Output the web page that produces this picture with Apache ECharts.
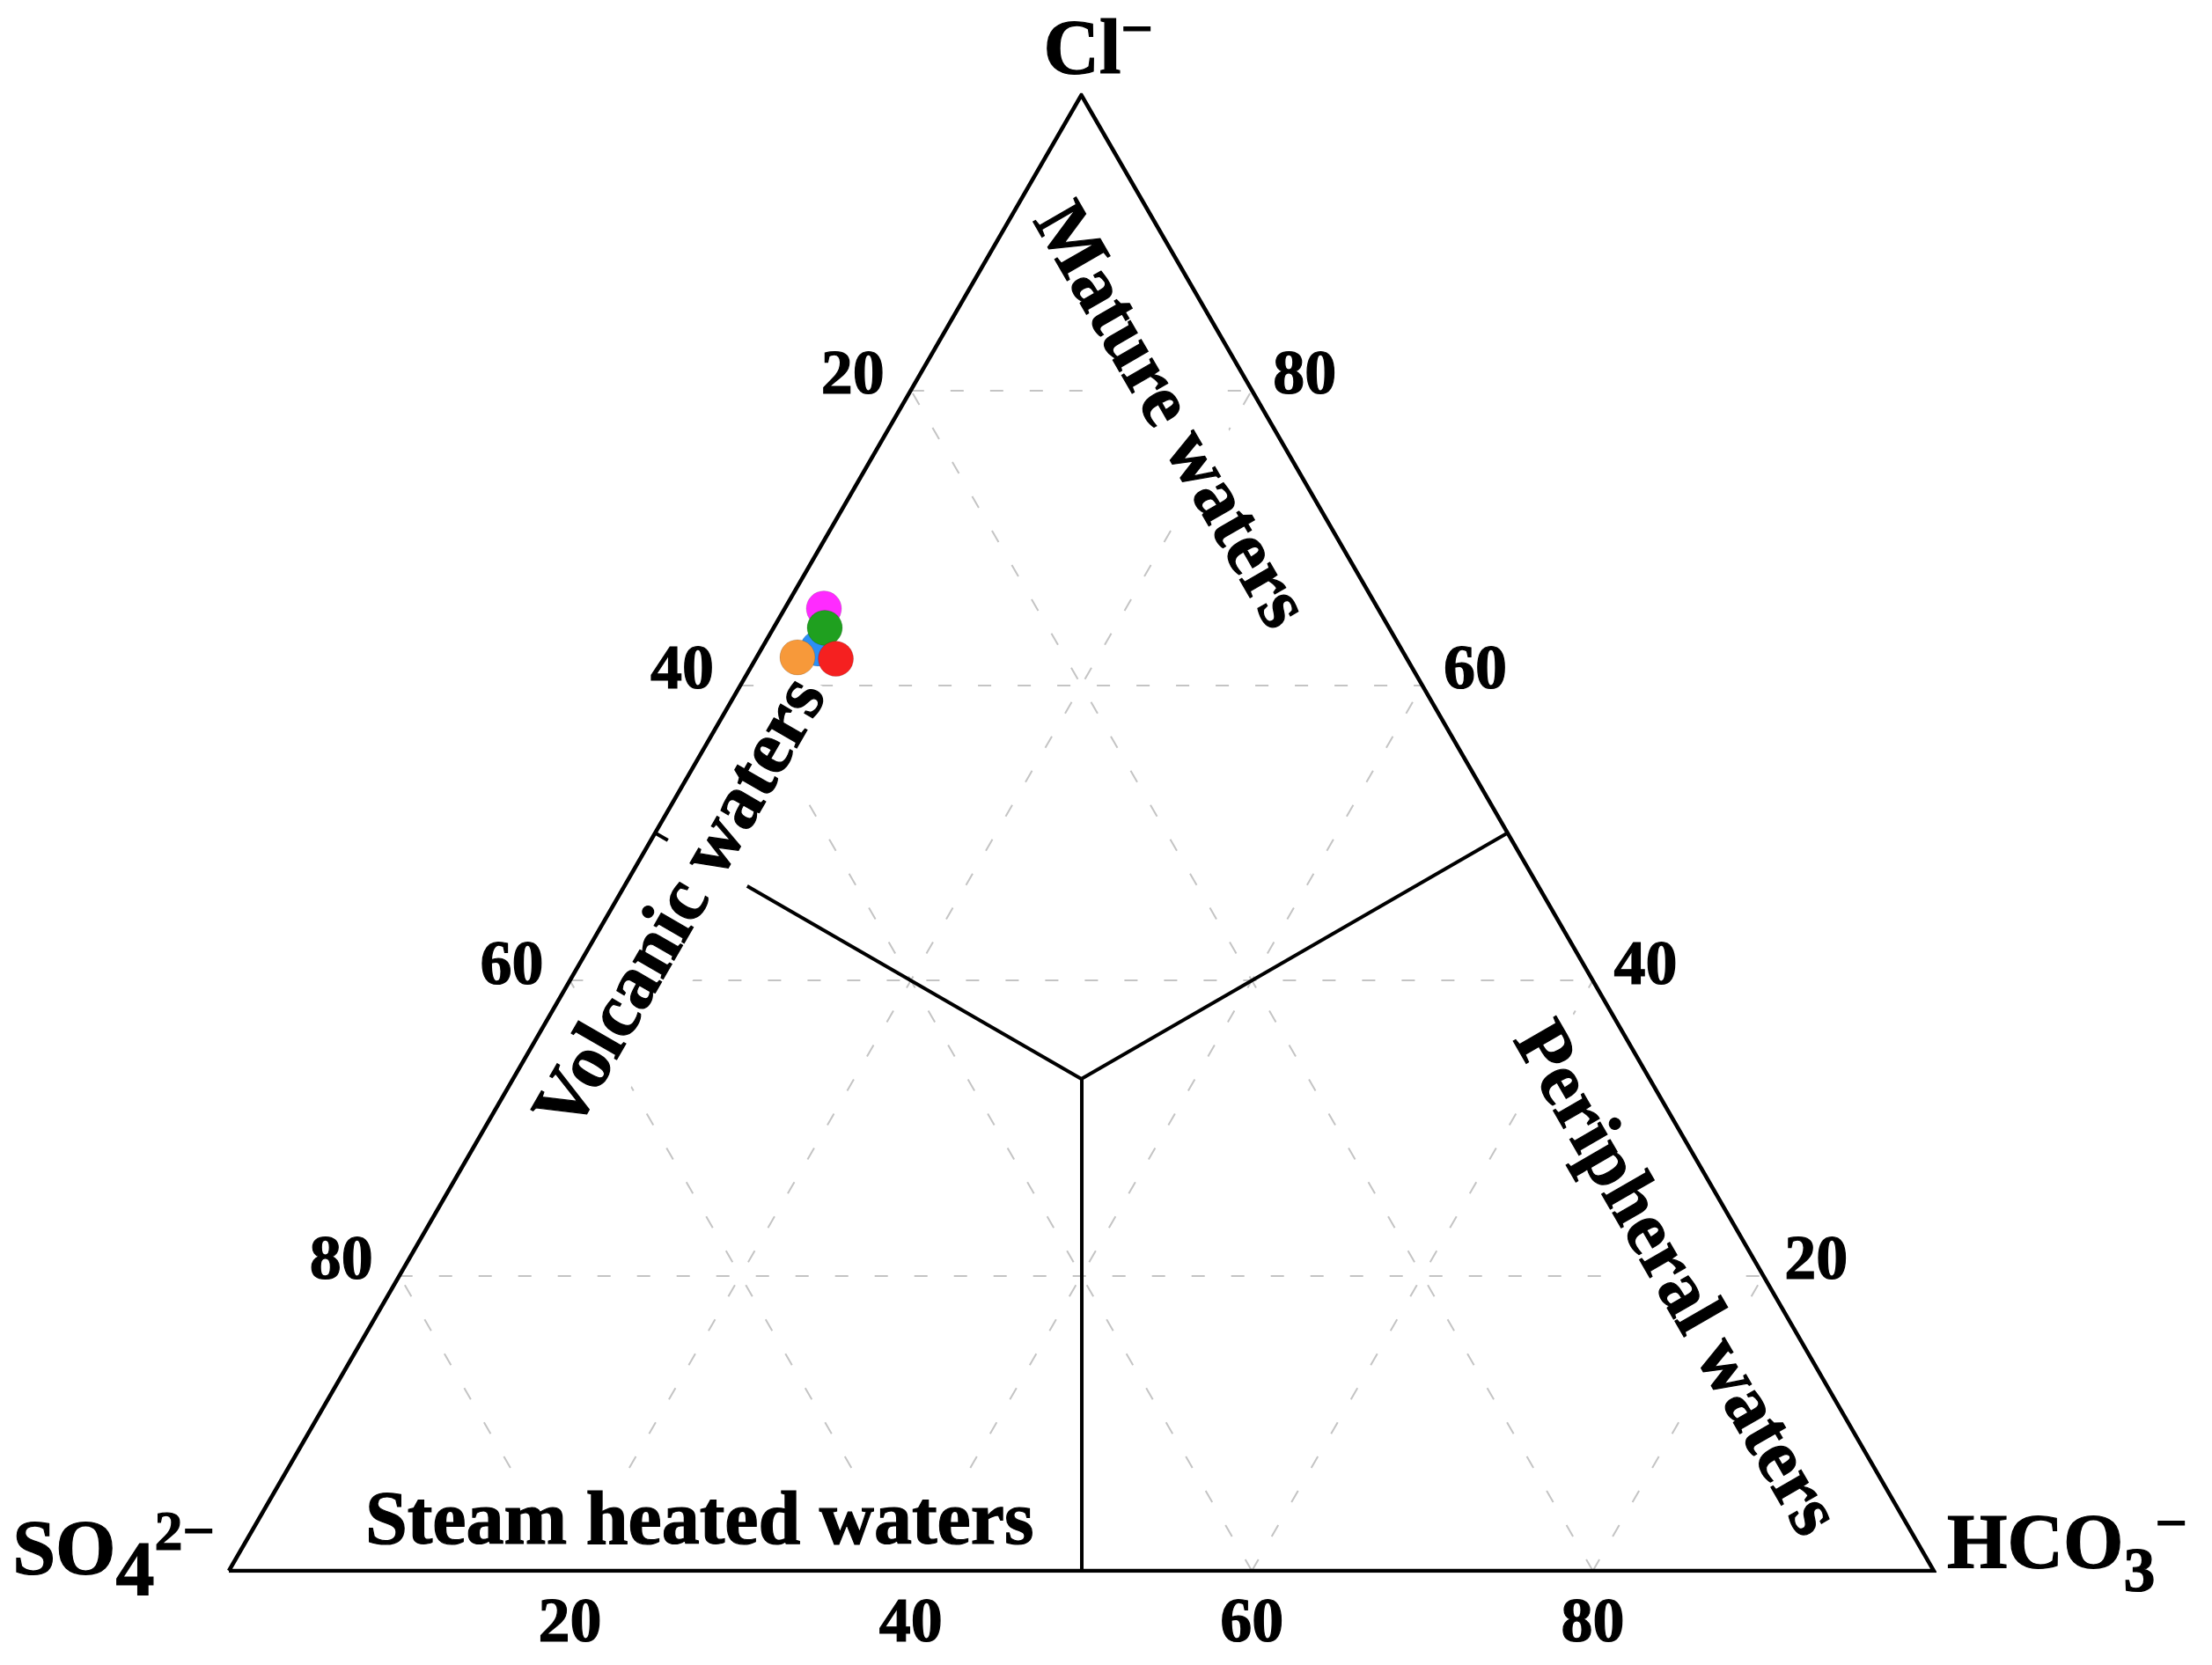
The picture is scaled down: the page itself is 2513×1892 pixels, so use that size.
<!DOCTYPE html>
<html><head><meta charset="utf-8">
<script src="https://cdn.jsdelivr.net/npm/echarts@6/dist/echarts.min.js"></script>
<style>html,body{margin:0;padding:0;background:#fff}#c{width:2513px;height:1892px}</style>
</head><body><div id="c"></div>
<script>
// ---- data ----
const ticks = [20, 40, 60, 80];
const sampleNames  = ['Sample 1', 'Sample 2', 'Sample 3', 'Sample 4', 'Sample 5'];
const sampleCl     = [62.5, 65.2, 63.9, 61.9, 61.8];
const sampleHCO3   = [3.3, 2.3, 3.0, 2.4, 4.7];
const sampleSO4    = [34.2, 32.5, 33.1, 35.7, 33.5];
const sampleColors = ['#2b8ff5', '#ff2bff', '#1fa01f', '#f7993a', '#f52020'];

const regionNames = ['Mature waters', 'Volcanic waters', 'Peripheral waters', 'Steam heated waters'];
const regionCl    = [78.2, 45.1, 19.7, 3.2];
const regionHCO3  = [16.0, 4.1, 74.9, 26.0];
const regionAngle = [-60, 60, -60, 0];

// ---- helpers ----
const S = Math.sqrt(3) / 2;
function tern(cl, hco3, so4) {
  const sum = (so4 === undefined) ? 100 : (cl + hco3 + so4);
  const c = cl / sum * 100, h = hco3 / sum * 100;
  return [h + c / 2, c * S];
}
const FONT = '"Liberation Serif", "Times New Roman", serif';
const INK = '#000';
const strokeTxt = { textBorderColor: INK, textBorderWidth: 1.2 };
const hidden = { color: 'rgba(0,0,0,0)', opacity: 1 };

const gridLines = [];
ticks.forEach(t => {
  gridLines.push({ coords: [tern(t, 0), tern(t, 100 - t)] });          // const Cl
  gridLines.push({ coords: [tern(0, t), tern(100 - t, t)] });          // const HCO3
  gridLines.push({ coords: [tern(0, 100 - t), tern(100 - t, 0)] });    // const SO4
});
const centroid = tern(100 / 3, 100 / 3);
const boundaryLines = [
  { coords: [centroid, tern(0, 50)] },
  { coords: [centroid, tern(50, 50)] },
  { coords: [centroid, tern(50, 0)] }
];
const triangle = [{ coords: [tern(0, 0), tern(0, 100), tern(100, 0), tern(0, 0)] }];

function tickSeries(data, label) {
  return {
    type: 'scatter', silent: true, zlevel: 3, z: 6, symbolSize: 1,
    itemStyle: hidden,
    data: data,
    label: Object.assign({ show: true, position: 'inside', formatter: '{b}', opacity: 1,
      fontFamily: FONT, fontWeight: 'bold', fontSize: 72, color: INK }, strokeTxt, label)
  };
}

function tok(size, pad) {
  return Object.assign({ fontFamily: FONT, fontWeight: 'bold', fontSize: size, lineHeight: 110,
    color: INK, padding: pad }, strokeTxt);
}
const ionRich = {
  m:    tok(88, [0, 0, 0, 0]),
  sub4: tok(88, [48, 0, 0, 0]),
  sub3: tok(72, [62, 0, 0, 0]),
  sup:  tok(64, [0, 0, 42, 0]),
  supm: tok(64, [0, 0, 46, 0])
};

const series = [
  { type: 'lines', coordinateSystem: 'cartesian2d', silent: true, zlevel: 0, z: 1,
    lineStyle: { color: '#c4c4c4', width: 2, type: [15, 30], opacity: 1 },
    data: gridLines },
  { type: 'lines', coordinateSystem: 'cartesian2d', silent: true, zlevel: 0, z: 2,
    lineStyle: { color: INK, width: 4, opacity: 1 },
    data: boundaryLines },
  { type: 'scatter', silent: true, zlevel: 1, z: 3, symbolSize: 1,
    itemStyle: hidden,
    data: regionNames.map((n, i) => ({
      name: n, value: tern(regionCl[i], regionHCO3[i]),
      label: { rotate: regionAngle[i] }
    })),
    label: Object.assign({ show: true, position: 'inside', formatter: '{b}', fontFamily: FONT, fontWeight: 'bold',
      fontSize: 86, color: INK, backgroundColor: '#ffffff', opacity: 1, lineHeight: 100, padding: [2, 6] }, strokeTxt) },
  { type: 'lines', coordinateSystem: 'cartesian2d', silent: true, zlevel: 2, z: 5, polyline: true,
    lineStyle: { color: INK, width: 4.5, opacity: 1, join: 'miter' },
    data: triangle },
  tickSeries(ticks.map(t => ({ name: String(t), value: tern(100 - t, 0) })), { align: 'right', offset: [-30, -15] }),
  tickSeries(ticks.map(t => ({ name: String(t), value: tern(t, 100 - t) })), { align: 'left', offset: [24, -15] }),
  tickSeries(ticks.map(t => ({ name: String(t), value: tern(0, t) })), { align: 'center', offset: [0, 61] }),
  { type: 'scatter', silent: true, zlevel: 3, z: 6, symbolSize: 1,
    itemStyle: hidden,
    data: [
      { name: 'Cl', value: tern(100, 0), label: { formatter: '{m|Cl}{supm|−}', align: 'left', offset: [-43, -48] } },
      { name: 'SO4', value: tern(0, 0), label: { formatter: '{m|SO}{sub4|4}{sup|2−}', align: 'right', offset: [-16, -20] } },
      { name: 'HCO3', value: tern(0, 100), label: { formatter: '{m|HCO}{sub3|3}{supm|−}', align: 'left', offset: [15, -27] } }
    ],
    label: { show: true, position: 'inside', opacity: 1, rich: ionRich } }
];

sampleNames.forEach((n, i) => {
  series.push({
    type: 'scatter', name: n, zlevel: 3, z: 10, symbol: 'circle', symbolSize: 40,
    itemStyle: { color: sampleColors[i], opacity: 1, borderColor: 'rgba(0,0,0,0.15)', borderWidth: 1 },
    data: [tern(sampleCl[i], sampleHCO3[i], sampleSO4[i])]
  });
});

const chart = echarts.init(document.getElementById('c'), null, { renderer: 'canvas' });
chart.setOption({
  animation: false,
  backgroundColor: '#fff',
  grid: { left: 260, top: 108, width: 1937, height: 1677, containLabel: false },
  xAxis: { type: 'value', min: 0, max: 100, show: false },
  yAxis: { type: 'value', min: 0, max: 100 * S, show: false },
  series: series
});
</script>
</body></html>
